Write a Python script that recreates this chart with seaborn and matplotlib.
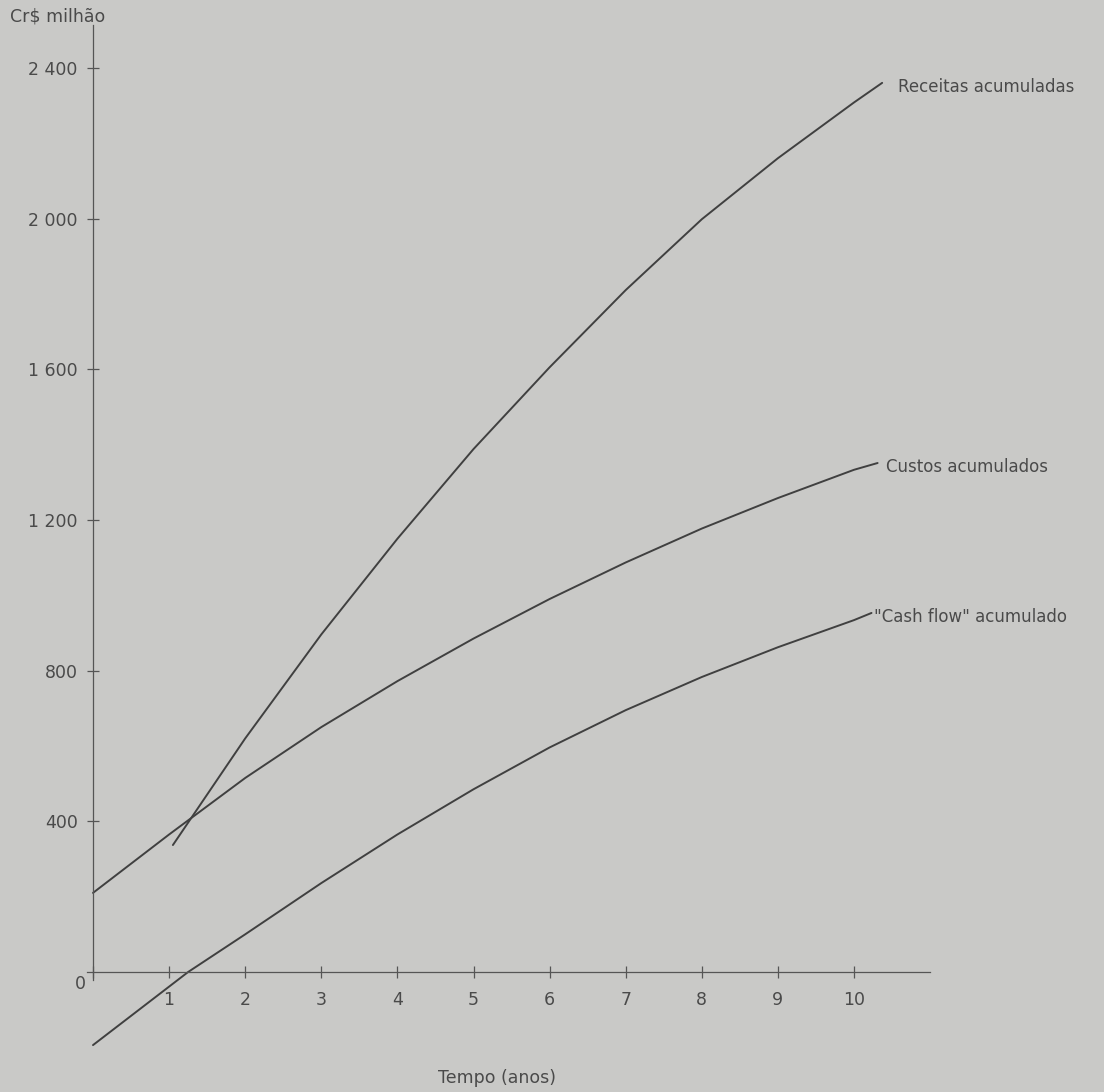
import matplotlib
matplotlib.use("Agg")
import matplotlib.pyplot as plt
import seaborn as sns
import pandas as pd

# ---- data ----
receitas_x = [1.05, 2, 3, 4, 5, 6, 7, 8, 9, 10, 10.37]
receitas_y = [337, 620, 896, 1150, 1388, 1605, 1810, 1998, 2160, 2308, 2360]

custos_x = [0, 1, 2, 3, 4, 5, 6, 7, 8, 9, 10, 10.31]
custos_y = [210, 365, 515, 650, 772, 885, 990, 1087, 1177, 1258, 1333, 1351]

cash_x = [0, 1.25, 2, 3, 4, 5, 6, 7, 8, 9, 10, 10.23]
cash_y = [-194, 0, 100, 236, 365, 485, 596, 695, 783, 862, 934, 953]

series_names = ["Receitas acumuladas", "Custos acumulados", '"Cash flow" acumulado']

x_ticks = [0, 1, 2, 3, 4, 5, 6, 7, 8, 9, 10]
x_tick_labels = ["", "1", "2", "3", "4", "5", "6", "7", "8", "9", "10"]
y_ticks = [400, 800, 1200, 1600, 2000, 2400]
y_tick_labels = ["400", "800", "1 200", "1 600", "2 000", "2 400"]

y_unit = "Cr$ milhão"
x_title = "Tempo (anos)"

# ---- styling ----
BG = "#c9c9c7"
INK = "#404040"
AXC = "#555555"
TXT = "#4a4a4a"

sns.set_theme(style="white")
plt.rcParams["font.family"] = ["DejaVu Sans"]

W, H = 1104, 1092
fig = plt.figure(figsize=(W / 100, H / 100), dpi=100, facecolor=BG)
ax = fig.add_axes([0, 0, 1, 1], facecolor=BG)

df = pd.concat([
    pd.DataFrame({"x": receitas_x, "y": receitas_y, "s": series_names[0]}),
    pd.DataFrame({"x": custos_x, "y": custos_y, "s": series_names[1]}),
    pd.DataFrame({"x": cash_x, "y": cash_y, "s": series_names[2]}),
])
sns.lineplot(data=df, x="x", y="y", hue="s", units="s", estimator=None, sort=False,
             palette=[INK, INK, INK], linewidth=1.4, legend=False, ax=ax)
for ln in ax.get_lines():
    ln.set_solid_joinstyle("round")
    ln.set_solid_capstyle("round")

# data -> pixel mapping: x=0 at px 93, 76.1 px/year; y=0 at py 972, 150.7 px / 400
px_per_x = 76.1
px_per_y = 150.7 / 400
ax.set_xlim(-93 / px_per_x, (W - 93) / px_per_x)
ax.set_ylim((972 - H) / px_per_y, 972 / px_per_y)

for s in ["top", "right"]:
    ax.spines[s].set_visible(False)
ax.spines["left"].set_position(("data", 0))
ax.spines["bottom"].set_position(("data", 0))
ax.spines["left"].set_bounds(-20, (972 - 25) / px_per_y)
ax.spines["bottom"].set_bounds(-0.08, (930 - 93) / px_per_x)
for s in ["left", "bottom"]:
    ax.spines[s].set_color(AXC)
    ax.spines[s].set_linewidth(0.9)

ax.set_xticks(x_ticks)
ax.set_xticklabels(x_tick_labels)
ax.set_yticks(y_ticks)
ax.set_yticklabels(y_tick_labels)
ax.tick_params(axis="both", bottom=True, left=True, direction="inout", length=8,
               width=0.9, color=AXC, labelcolor=TXT, labelsize=12.5)
ax.tick_params(axis="x", pad=10)
ax.tick_params(axis="y", pad=7)
ax.set_xlabel("")
ax.set_ylabel("")

def ftext(px, py, s, **kw):
    fig.text(px / W, 1 - py / H, s, color=TXT, va="center", ha="left", **kw)

ftext(10, 17, y_unit, fontsize=12.5)
ftext(438, 1078, x_title, fontsize=12.5)
ftext(75, 984, "0", fontsize=12.5)
ftext(898, 87, series_names[0], fontsize=12)
ftext(886, 467, series_names[1], fontsize=12)
ftext(874, 617, series_names[2], fontsize=12)

fig.savefig("out.png", dpi=100, facecolor=BG)
